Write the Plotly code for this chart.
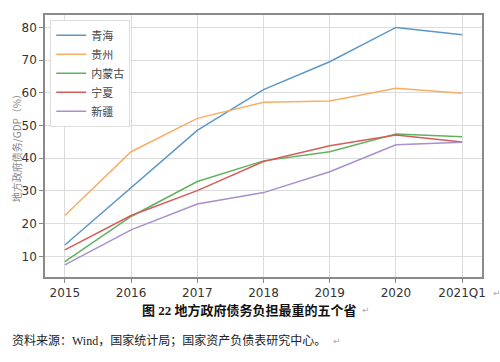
import plotly.graph_objects as go

categories = ["2015", "2016", "2017", "2018", "2019", "2020", "2021Q1"]
qinghai = [13.5, 31.0, 48.5, 61.0, 69.5, 80.0, 77.8]
guizhou = [22.5, 42.0, 52.2, 57.1, 57.5, 61.4, 59.9]
neimenggu = [8.4, 22.2, 32.9, 39.2, 42.0, 47.4, 46.6]
ningxia = [12.0, 22.5, 30.1, 39.0, 43.8, 47.1, 45.0]
xinjiang = [7.4, 18.1, 26.0, 29.5, 35.9, 44.1, 44.9]

series_names = ["青海", "贵州", "内蒙古", "宁夏", "新疆"]
series_values = [qinghai, guizhou, neimenggu, ningxia, xinjiang]
colors = ["#5b98c6", "#f7ad66", "#5fb35f", "#d65c5a", "#a98fcc"]

y_ticks = [10, 20, 30, 40, 50, 60, 70, 80]

fig = go.Figure()
for name, vals, c in zip(series_names, series_values, colors):
    fig.add_trace(go.Scatter(x=list(range(len(categories))), y=vals, name=name,
                             mode="lines", line=dict(color=c, width=1.5)))

font_main = "DejaVu Sans, Noto Sans CJK SC"
fig.update_layout(
    width=500, height=362,
    margin=dict(l=45, r=18, t=15, b=85),
    paper_bgcolor="white", plot_bgcolor="white",
    font=dict(family=font_main, size=12, color="#333"),
    showlegend=True,
    legend=dict(x=0.012, y=0.982, xanchor="left", yanchor="top",
                bgcolor="white", bordercolor="#dddddd", borderwidth=1,
                font=dict(size=11, color="#444", family="Noto Sans CJK SC"),
                tracegroupgap=0, itemwidth=30),
    xaxis=dict(range=[-0.3, 6.3], tickmode="array",
               tickvals=list(range(len(categories))), ticktext=categories,
               showgrid=True, gridcolor="#dcdcdc", gridwidth=1,
               showline=True, linecolor="#8a8a8a", linewidth=1.5, mirror=True,
               ticks="outside", ticklen=4, tickcolor="#8a8a8a",
               tickfont=dict(size=12, color="#333"), zeroline=False),
    yaxis=dict(range=[3.7, 83.8], tickmode="array", tickvals=y_ticks,
               showgrid=True, gridcolor="#dcdcdc", gridwidth=1,
               showline=True, linecolor="#8a8a8a", linewidth=1.5, mirror=True,
               ticks="outside", ticklen=4, tickcolor="#8a8a8a",
               tickfont=dict(size=12, color="#333"), zeroline=False),
)

fig.add_annotation(text="地方政府债务/GDP（%）", xref="paper", yref="paper",
                   x=-0.066, y=0.5, textangle=-90, showarrow=False,
                   xanchor="center", yanchor="middle",
                   font=dict(size=10, color="#888", family="Noto Sans CJK SC"))
fig.add_annotation(text="<b>图 22 地方政府债务负担最重的五个省</b>", xref="paper", yref="paper",
                   x=0.469, y=-0.126, showarrow=False, xanchor="center", yanchor="middle",
                   font=dict(size=13, color="#111", family="Liberation Serif, Noto Sans CJK SC"))
fig.add_annotation(text="资料来源：Wind，国家统计局；国家资产负债表研究中心。", xref="paper", yref="paper",
                   x=-0.080, y=-0.244, showarrow=False, xanchor="left", yanchor="middle",
                   font=dict(size=12, color="#222", family="Liberation Serif, Noto Sans CJK SC"))
# paragraph marks as in the reference document
for px, py in [(1.02, -0.062), (0.72, -0.126), (0.655, -0.244)]:
    fig.add_annotation(text="↵", xref="paper", yref="paper", x=px, y=py,
                       showarrow=False, xanchor="left", yanchor="middle",
                       font=dict(size=9, color="#aaa"))

fig.write_html("out.html", config={"displayModeBar": False},
               post_script="document.body.style.margin='0';")
